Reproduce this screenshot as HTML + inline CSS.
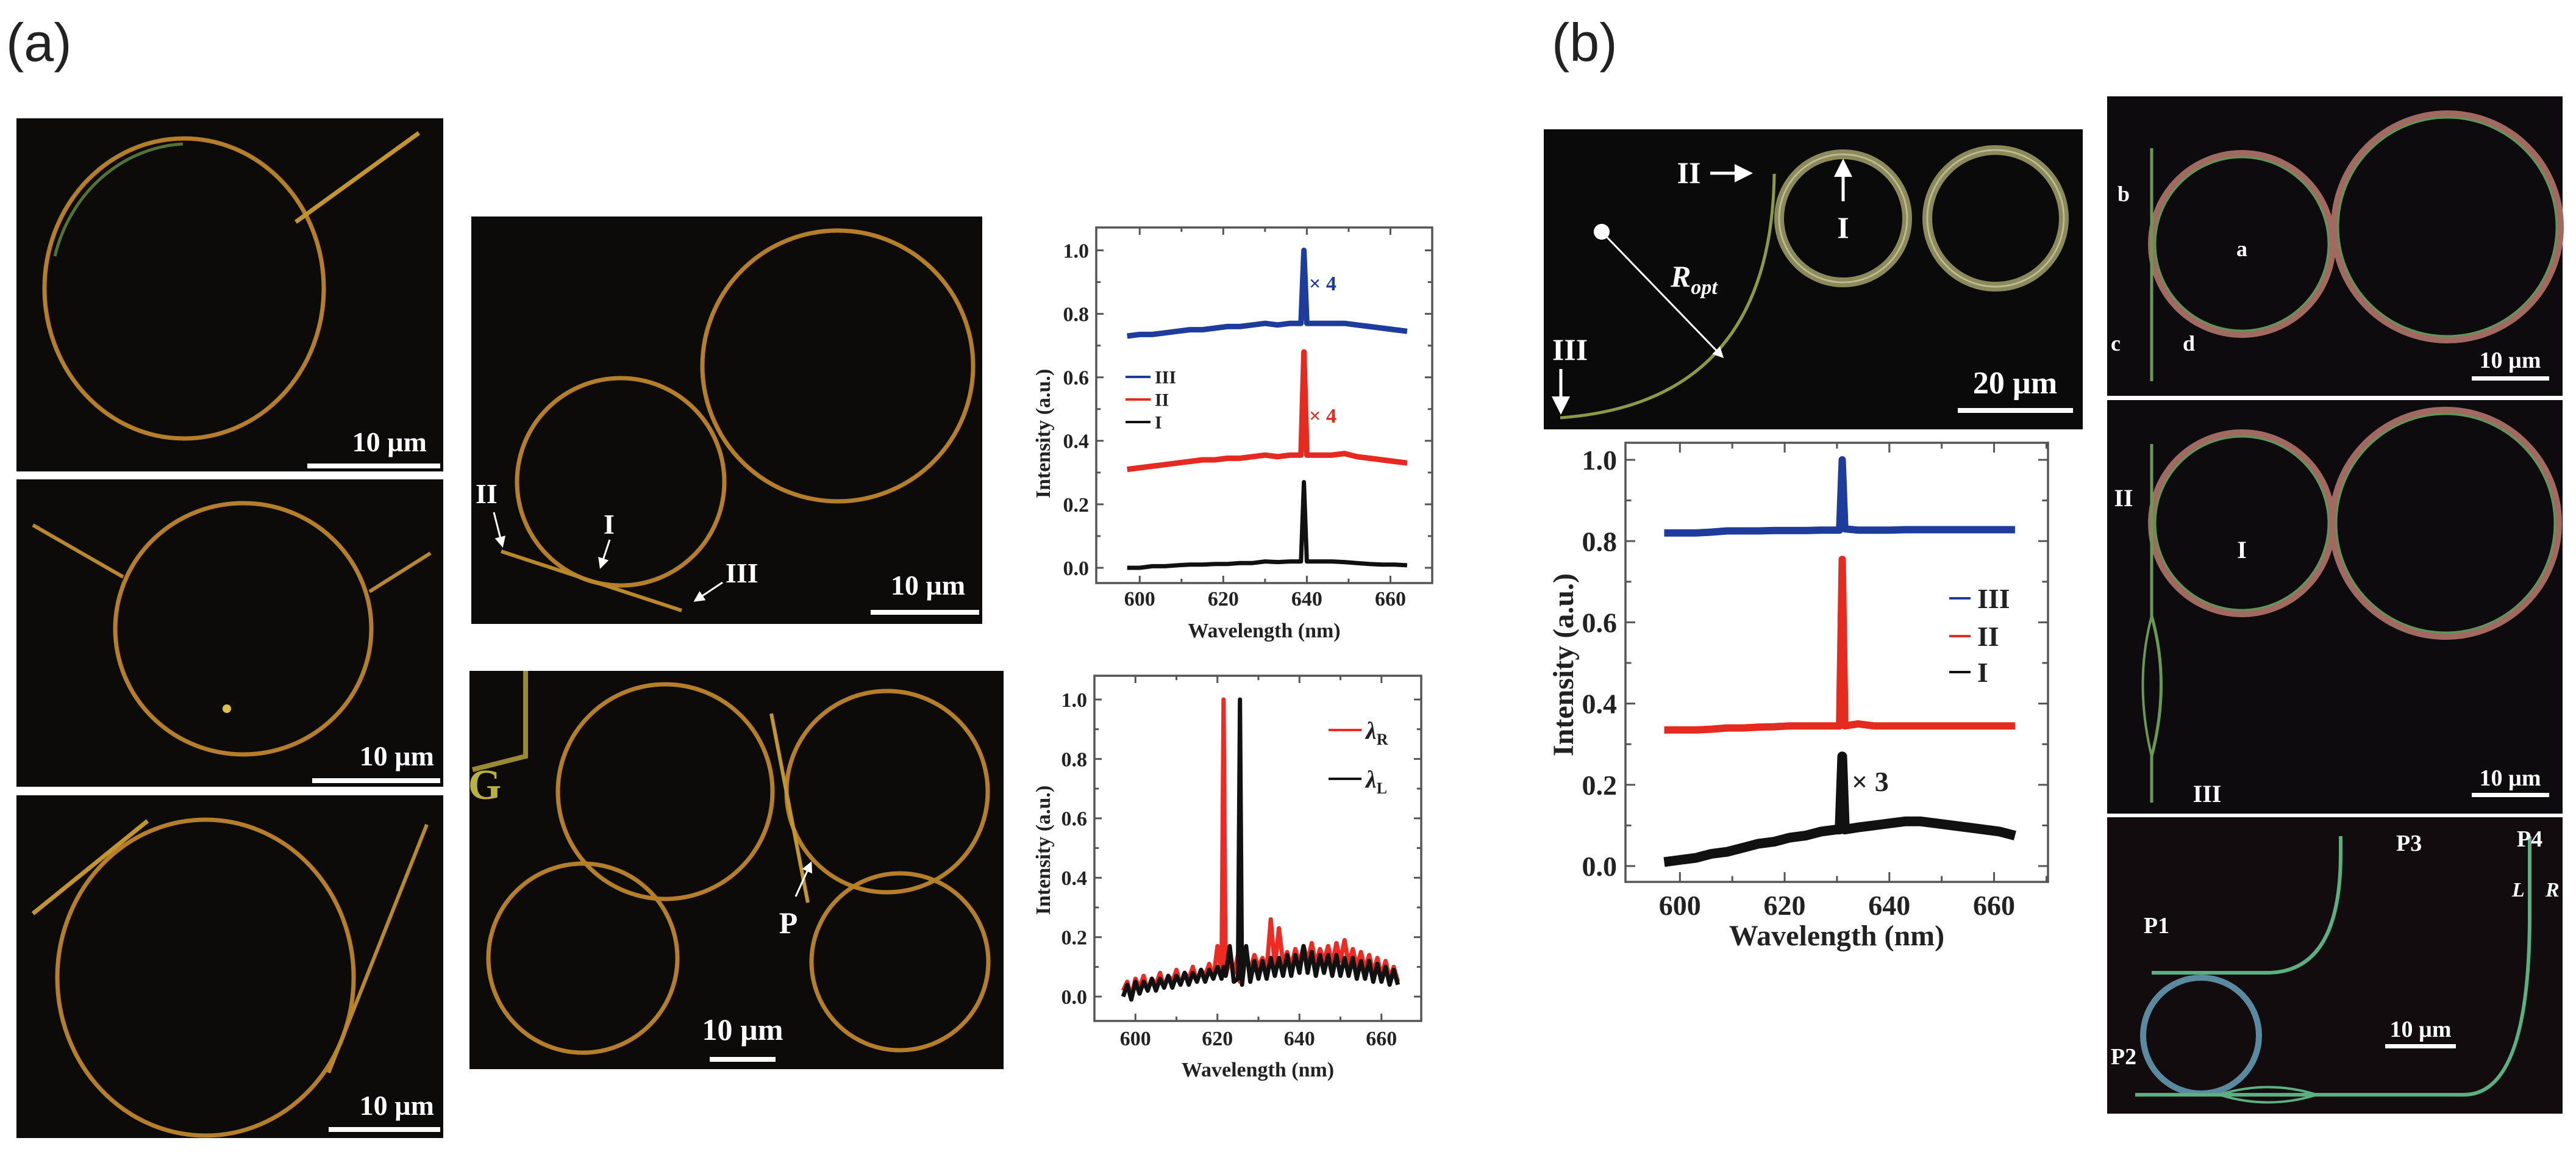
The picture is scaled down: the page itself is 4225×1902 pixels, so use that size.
<!DOCTYPE html>
<html><head><meta charset="utf-8"><style>
html,body{margin:0;padding:0;background:#fff;}
svg{display:block;}
.ser{font-family:"Liberation Serif",serif;font-weight:bold;}
</style></head>
<body>
<svg id="fig" xmlns="http://www.w3.org/2000/svg" width="4225" height="1902" viewBox="0 0 4225 1902">
<defs><marker id="ah" markerWidth="6" markerHeight="6" refX="5" refY="3" orient="auto"><path d="M0,0 L6,3 L0,6 Z" fill="#fff"/></marker></defs>
<rect width="4225" height="1902" fill="#fff"/>
<text x="10" y="100" font-family="Liberation Sans, sans-serif" font-size="88" fill="#222">(a)</text>
<text x="2545" y="100" font-family="Liberation Sans, sans-serif" font-size="88" fill="#222">(b)</text>

<g>
<rect x="27" y="194" width="700" height="579" fill="#0d0b0a"/>
<ellipse cx="302" cy="473" rx="229" ry="246" fill="none" stroke="#b47f28" stroke-width="7"/>
<path d="M300,236 A229,246 0 0 0 90,420" fill="none" stroke="#6fa048" stroke-width="5" opacity="0.7"/>
<line x1="485" y1="364" x2="687" y2="218" stroke="#c2962c" stroke-width="7"/>
<rect x="504" y="760" width="218" height="8" fill="#fff"/>
<text class="ser" x="700" y="740" font-size="46" fill="#fff" text-anchor="end">10 µm</text>
</g>
<g>
<rect x="27" y="786" width="700" height="504" fill="#0d0b0a"/>
<ellipse cx="399" cy="1031" rx="210" ry="206" fill="none" stroke="#b47f28" stroke-width="7"/>
<line x1="54" y1="861" x2="202" y2="946" stroke="#b8882a" stroke-width="6"/>
<line x1="606" y1="970" x2="706" y2="907" stroke="#b8882a" stroke-width="6"/>
<circle cx="372" cy="1162" r="7" fill="#e0c040"/>
<rect x="512" y="1276" width="210" height="8" fill="#fff"/>
<text class="ser" x="712" y="1255" font-size="46" fill="#fff" text-anchor="end">10 µm</text>
</g>
<g>
<rect x="27" y="1304" width="700" height="562" fill="#0d0b0a"/>
<ellipse cx="337" cy="1603" rx="243" ry="259" fill="none" stroke="#b47f28" stroke-width="7"/>
<line x1="54" y1="1498" x2="242" y2="1346" stroke="#c2962c" stroke-width="7"/>
<line x1="700" y1="1352" x2="539" y2="1759" stroke="#b8882a" stroke-width="6"/>
<rect x="539" y="1848" width="183" height="8" fill="#fff"/>
<text class="ser" x="712" y="1828" font-size="46" fill="#fff" text-anchor="end">10 µm</text>
</g>

<g>
<rect x="773" y="355" width="838" height="668" fill="#0d0b0a"/>
<circle cx="1374" cy="600" r="222" fill="none" stroke="#b47f28" stroke-width="7"/>
<circle cx="1018" cy="790" r="170" fill="none" stroke="#b47f28" stroke-width="7"/>
<line x1="822" y1="904" x2="1118" y2="1001" stroke="#b8882a" stroke-width="6"/>
<text class="ser" x="780" y="825" font-size="46" fill="#fff">II</text>
<line x1="810" y1="840" x2="824" y2="895" stroke="#fff" stroke-width="3" marker-end="url(#ah)"/>
<text class="ser" x="990" y="875" font-size="46" fill="#fff">I</text>
<line x1="1000" y1="885" x2="985" y2="930" stroke="#fff" stroke-width="3" marker-end="url(#ah)"/>
<text class="ser" x="1190" y="955" font-size="46" fill="#fff">III</text>
<line x1="1185" y1="955" x2="1140" y2="985" stroke="#fff" stroke-width="3" marker-end="url(#ah)"/>
<rect x="1428" y="1000" width="178" height="8" fill="#fff"/>
<text class="ser" x="1522" y="975" font-size="46" fill="#fff" text-anchor="middle">10 µm</text>
</g>

<g>
<rect x="770" y="1100" width="876" height="653" fill="#0d0b0a"/>
<circle cx="1091" cy="1298" r="176" fill="none" stroke="#b47f28" stroke-width="7"/>
<circle cx="1455" cy="1298" r="165" fill="none" stroke="#b47f28" stroke-width="7"/>
<circle cx="956" cy="1571" r="155" fill="none" stroke="#b47f28" stroke-width="7"/>
<circle cx="1476" cy="1577" r="145" fill="none" stroke="#b47f28" stroke-width="7"/>
<line x1="1265" y1="1170" x2="1325" y2="1480" stroke="#c2962c" stroke-width="6"/>
<path d="M862,1100 L862,1240 L775,1262" fill="none" stroke="#9a8a30" stroke-width="8"/>
<text class="ser" x="795" y="1310" font-size="70" fill="#b8b040" text-anchor="middle">G</text>
<text class="ser" x="1293" y="1530" font-size="50" fill="#fff" text-anchor="middle">P</text>
<line x1="1305" y1="1470" x2="1330" y2="1415" stroke="#fff" stroke-width="3" marker-end="url(#ah)"/>
<rect x="1164" y="1733" width="108" height="8" fill="#fff"/>
<text class="ser" x="1218" y="1705" font-size="50" fill="#fff" text-anchor="middle">10 µm</text>
</g>

<g>
<rect x="2532" y="212" width="884" height="492" fill="#0b0a0a"/>
<circle cx="3023" cy="358" r="105" fill="none" stroke="#8a8a5a" stroke-width="16"/>
<circle cx="3023" cy="358" r="105" fill="none" stroke="#c0b890" stroke-width="3"/>
<circle cx="3273" cy="358" r="112" fill="none" stroke="#8a8a5a" stroke-width="16"/>
<circle cx="3273" cy="358" r="112" fill="none" stroke="#c0b890" stroke-width="3"/>
<path d="M2559,685 Q2905,660 2910,285" fill="none" stroke="#8c9a40" stroke-width="5"/>
<circle cx="2627" cy="380" r="13" fill="#fff"/>
<line x1="2627" y1="380" x2="2825" y2="585" stroke="#fff" stroke-width="3" marker-end="url(#ah)"/>
<text class="ser" x="2740" y="470" font-size="50" font-style="italic" fill="#fff">R<tspan font-size="34" dy="12">opt</tspan></text>
<text class="ser" x="2770" y="300" font-size="50" fill="#fff" text-anchor="middle">II</text>
<line x1="2805" y1="284" x2="2870" y2="284" stroke="#fff" stroke-width="5" marker-end="url(#ah)"/>
<text class="ser" x="3023" y="390" font-size="50" fill="#fff" text-anchor="middle">I</text>
<line x1="3023" y1="330" x2="3023" y2="265" stroke="#fff" stroke-width="5" marker-end="url(#ah)"/>
<text class="ser" x="2575" y="590" font-size="50" fill="#fff" text-anchor="middle">III</text>
<line x1="2560" y1="605" x2="2560" y2="675" stroke="#fff" stroke-width="5" marker-end="url(#ah)"/>
<rect x="3211" y="669" width="189" height="8" fill="#fff"/>
<text class="ser" x="3305" y="645" font-size="52" fill="#fff" text-anchor="middle">20 µm</text>
</g>

<g>
<rect x="3456" y="158" width="747" height="491" fill="#0d0b0d"/>
<circle cx="3677" cy="400" r="148" fill="none" stroke="#a06a60" stroke-width="12"/>
<circle cx="3677" cy="400" r="142" fill="none" stroke="#5a9a58" stroke-width="3"/>
<circle cx="4014" cy="372" r="185" fill="none" stroke="#a06a60" stroke-width="12"/>
<circle cx="4014" cy="372" r="179" fill="none" stroke="#5a9a58" stroke-width="3"/>
<line x1="3529" y1="243" x2="3529" y2="625" stroke="#6a9a50" stroke-width="5"/>
<text class="ser" x="3483" y="330" font-size="36" fill="#fff" text-anchor="middle">b</text>
<text class="ser" x="3677" y="420" font-size="36" fill="#fff" text-anchor="middle">a</text>
<text class="ser" x="3470" y="575" font-size="36" fill="#fff" text-anchor="middle">c</text>
<text class="ser" x="3590" y="575" font-size="36" fill="#fff" text-anchor="middle">d</text>
<rect x="4054" y="617" width="127" height="7" fill="#fff"/>
<text class="ser" x="4117" y="603" font-size="38" fill="#fff" text-anchor="middle">10 µm</text>
</g>
<g>
<rect x="3456" y="656" width="747" height="678" fill="#0d0b0d"/>
<circle cx="3677" cy="858" r="148" fill="none" stroke="#a06a60" stroke-width="12"/>
<circle cx="3677" cy="858" r="142" fill="none" stroke="#5a9a58" stroke-width="3"/>
<circle cx="4011" cy="858" r="185" fill="none" stroke="#a06a60" stroke-width="12"/>
<circle cx="4011" cy="858" r="179" fill="none" stroke="#5a9a58" stroke-width="3"/>
<path d="M3529,728 L3529,1010 Q3560,1120 3529,1240 L3529,1316" fill="none" stroke="#6a9a50" stroke-width="5"/>
<path d="M3529,1010 Q3500,1120 3529,1240" fill="none" stroke="#6a9a50" stroke-width="4"/>
<text class="ser" x="3483" y="830" font-size="40" fill="#fff" text-anchor="middle">II</text>
<text class="ser" x="3677" y="915" font-size="40" fill="#fff" text-anchor="middle">I</text>
<text class="ser" x="3620" y="1315" font-size="40" fill="#fff" text-anchor="middle">III</text>
<rect x="4054" y="1300" width="127" height="7" fill="#fff"/>
<text class="ser" x="4117" y="1288" font-size="38" fill="#fff" text-anchor="middle">10 µm</text>
</g>
<g>
<rect x="3456" y="1340" width="747" height="486" fill="#120c0e"/>
<circle cx="3610" cy="1698" r="95" fill="none" stroke="#5a8aa0" stroke-width="10"/>
<path d="M3529,1595 L3718,1595 Q3839,1595 3839,1400 L3839,1371" fill="none" stroke="#5ab080" stroke-width="6"/>
<path d="M3502,1795 L4041,1795 Q4149,1795 4149,1500 L4149,1371" fill="none" stroke="#5ab080" stroke-width="6"/>
<path d="M3640,1795 Q3720,1770 3800,1795 Q3720,1820 3640,1795" fill="none" stroke="#5ab080" stroke-width="4"/>
<text class="ser" x="3930" y="1395" font-size="38" fill="#fff">P3</text>
<text class="ser" x="4149" y="1388" font-size="38" fill="#fff" text-anchor="middle">P4</text>
<text class="ser" x="3537" y="1530" font-size="38" fill="#fff" text-anchor="middle">P1</text>
<text class="ser" x="3483" y="1745" font-size="38" fill="#fff" text-anchor="middle">P2</text>
<text class="ser" x="4120" y="1470" font-size="34" font-style="italic" fill="#fff">L</text>
<text class="ser" x="4175" y="1470" font-size="34" font-style="italic" fill="#fff">R</text>
<rect x="3912" y="1712" width="116" height="7" fill="#fff"/>
<text class="ser" x="3970" y="1700" font-size="38" fill="#fff" text-anchor="middle">10 µm</text>
</g>
<g id="charts"></g>
</svg>
<script>
const wl1 = [597,600,603,606,609,612,615,618,621,624,627,630,633,636,638.6,639.3,640,643,646,649,652,655,658,661,664];
const c1I = [0.00,0.00,0.005,0.005,0.008,0.01,0.01,0.012,0.012,0.015,0.015,0.02,0.018,0.02,0.02,0.27,0.02,0.02,0.02,0.018,0.015,0.012,0.01,0.01,0.008];
const c1II = [0.31,0.315,0.32,0.325,0.33,0.335,0.34,0.34,0.345,0.345,0.35,0.355,0.35,0.355,0.355,0.68,0.355,0.355,0.355,0.36,0.35,0.345,0.34,0.335,0.33];
const c1III = [0.73,0.735,0.735,0.74,0.745,0.75,0.75,0.755,0.76,0.76,0.765,0.77,0.765,0.77,0.77,1.0,0.77,0.77,0.77,0.77,0.765,0.76,0.755,0.75,0.745];
const wl2 = [597,598,599,600,601,602,603,604,605,606,607,608,609,610,611,612,613,614,615,616,617,618,619,620,621,621.5,622,623,624,625,625.5,626,627,628,629,630,631,632,633,634,635,636,637,638,639,640,641,642,643,644,645,646,647,648,649,650,651,652,653,654,655,656,657,658,659,660,661,662,663,664];
const c2R = [0.02,0.05,0.00,0.06,0.03,0.07,0.02,0.06,0.04,0.08,0.03,0.07,0.05,0.09,0.04,0.08,0.06,0.10,0.05,0.09,0.07,0.11,0.06,0.17,0.08,1.0,0.07,0.12,0.08,0.14,0.05,0.10,0.13,0.09,0.14,0.10,0.13,0.09,0.26,0.10,0.23,0.11,0.15,0.10,0.16,0.11,0.17,0.12,0.18,0.11,0.16,0.12,0.17,0.11,0.18,0.12,0.19,0.11,0.16,0.10,0.15,0.09,0.14,0.08,0.13,0.07,0.12,0.06,0.10,0.05];
const c2L = [0.00,0.04,-0.01,0.05,0.01,0.05,0.02,0.06,0.02,0.06,0.03,0.07,0.03,0.07,0.04,0.08,0.04,0.08,0.05,0.09,0.05,0.09,0.06,0.10,0.06,0.10,0.07,0.17,0.05,0.06,1.0,0.04,0.17,0.05,0.12,0.06,0.12,0.06,0.13,0.07,0.13,0.07,0.14,0.07,0.14,0.08,0.17,0.08,0.15,0.07,0.14,0.08,0.14,0.07,0.14,0.07,0.13,0.07,0.13,0.06,0.12,0.06,0.12,0.05,0.11,0.05,0.10,0.04,0.09,0.04];
const wl3 = [597,600,603,606,609,612,615,618,621,624,627,630,630.5,631,631.5,634,637,640,643,646,649,652,655,658,661,664];
const c3I = [0.01,0.015,0.02,0.03,0.035,0.045,0.055,0.06,0.07,0.075,0.085,0.09,0.09,0.27,0.09,0.095,0.10,0.105,0.11,0.11,0.105,0.10,0.095,0.09,0.085,0.075];
const c3II = [0.335,0.335,0.335,0.337,0.34,0.34,0.342,0.343,0.345,0.345,0.345,0.345,0.345,0.755,0.345,0.35,0.345,0.345,0.345,0.345,0.345,0.345,0.345,0.345,0.345,0.345];
const c3III = [0.82,0.82,0.82,0.822,0.825,0.825,0.825,0.826,0.826,0.826,0.827,0.827,0.827,1.0,0.83,0.827,0.827,0.827,0.828,0.828,0.828,0.828,0.828,0.828,0.828,0.828];
const xTickVals = [600,620,640,660];
const xMinorVals = [610,630,650,670];
const yTickVals = [0.0,0.2,0.4,0.6,0.8,1.0];
const yTickLabels = ["0.0","0.2","0.4","0.6","0.8","1.0"];
const xTickLabels = ["600","620","640","660"];

const NS = "http://www.w3.org/2000/svg";
const root = document.getElementById('charts');
function el(tag, attrs, parent){ const e=document.createElementNS(NS,tag); for(const k in attrs) e.setAttribute(k,attrs[k]); parent.appendChild(e); return e; }

function chart(cfg){
  const g = el('g',{},root);
  
  
  const sx = v => cfg.L + (v - cfg.x0)/(cfg.x1 - cfg.x0)*(cfg.R - cfg.L);
  const sy = v => cfg.B - (v - cfg.y0)/(cfg.y1 - cfg.y0)*(cfg.B - cfg.T);
  const fs = cfg.fs;
  const tl = cfg.tick;
  xTickVals.forEach((v,i)=>{
    const x=sx(v);
    const t1=el('line',{x1:x,y1:cfg.B,x2:x,y2:cfg.B-tl,stroke:'#555','stroke-width':3},g);
    
    
    el('line',{x1:x,y1:cfg.T,x2:x,y2:cfg.T+tl,stroke:'#555','stroke-width':3},g);
    const lab=el('text',{x:x,y:cfg.xLabY,'font-size':fs,'text-anchor':'middle',fill:'#222',class:'ser'},g);
    lab.textContent=xTickLabels[i];
    
    
  });
  xMinorVals.forEach(v=>{ const x=sx(v); if(x<cfg.R){
    el('line',{x1:x,y1:cfg.B,x2:x,y2:cfg.B-tl*0.6,stroke:'#555','stroke-width':3},g);
    el('line',{x1:x,y1:cfg.T,x2:x,y2:cfg.T+tl*0.6,stroke:'#555','stroke-width':3},g);}});
  yTickVals.forEach((v,i)=>{
    const y=sy(v);
    const t=el('line',{x1:cfg.L,y1:y,x2:cfg.L+tl,y2:y,stroke:'#555','stroke-width':3},g);
    
    
    el('line',{x1:cfg.R,y1:y,x2:cfg.R-tl,y2:y,stroke:'#555','stroke-width':3},g);
    const ym=sy(v+0.1);
    if(ym>cfg.T){ el('line',{x1:cfg.L,y1:ym,x2:cfg.L+tl*0.6,y2:ym,stroke:'#555','stroke-width':3},g);
      el('line',{x1:cfg.R,y1:ym,x2:cfg.R-tl*0.6,y2:ym,stroke:'#555','stroke-width':3},g);}
    const lab=el('text',{x:cfg.L-cfg.yLabGap,y:y+fs*0.35,'font-size':fs,'text-anchor':'end',fill:'#222',class:'ser'},g);
    lab.textContent=yTickLabels[i];
    
    
  });
  const box=el('rect',{x:cfg.L,y:cfg.T,width:cfg.R-cfg.L,height:cfg.B-cfg.T,fill:'none',stroke:'#555','stroke-width':3.5},g);
  
  
  cfg.series.forEach(s=>{
    const d = s.vals.map((v,i)=>(i?'L':'M')+sx(cfg.wl[i]).toFixed(1)+','+sy(v).toFixed(1)).join(' ');
    const p=el('path',{d:d,fill:'none',stroke:s.color,'stroke-width':s.w,'stroke-linejoin':'round'},g);
    
    
  });
  const xt=el('text',{x:(cfg.L+cfg.R)/2,y:cfg.xTitleY,'font-size':cfg.tfs,'text-anchor':'middle',fill:'#222',class:'ser'},g);
  xt.textContent='Wavelength (nm)';
  
  
  const yt=el('text',{x:0,y:0,'font-size':cfg.tfs,'text-anchor':'middle',fill:'#222',class:'ser',transform:`translate(${cfg.yTitleX},${cfg.yTitleY}) rotate(-90)`},g);
  yt.textContent='Intensity (a.u.)';
  
  
  cfg.legend.forEach(l=>{
    const lg=el('g',{},g);
    
    
    el('line',{x1:l.x1,y1:l.y,x2:l.x2,y2:l.y,stroke:l.color,'stroke-width':4},lg);
    const t=el('text',{x:l.tx,y:l.y+l.fs*0.35,'font-size':l.fs,fill:'#222',class:'ser'},lg);
    t.innerHTML=l.label;
  });
  (cfg.notes||[]).forEach(n=>{
    const t=el('text',{x:n.x,y:n.y,'font-size':n.fs,fill:n.color,class:'ser'},g);
    t.textContent=n.text;
    
    
  });
}

chart({name:'spectra-chart-a-top',L:1798,R:2349,T:373,B:956,x0:589.6,x1:670,y0:-0.048,y1:1.072,
  fs:34,tfs:34,tick:12,yLabGap:12,xLabY:993,xTitleY:1045,yTitleX:1722,yTitleY:711,wl:wl1,
  series:[{key:'III',vals:c1III,color:'#1e3c9c',w:9},{key:'II',vals:c1II,color:'#e52a1f',w:9},{key:'I',vals:c1I,color:'#111',w:7}],
  legend:[{key:'III',x1:1846,x2:1887,y:618,tx:1894,fs:30,color:'#1e3c9c',label:'III'},
          {key:'II',x1:1846,x2:1887,y:655,tx:1894,fs:30,color:'#e52a1f',label:'II'},
          {key:'I',x1:1846,x2:1887,y:692,tx:1894,fs:30,color:'#111',label:'I'}],
  notes:[{x:2147,y:476,fs:34,color:'#1e3c9c',text:'× 4'},{x:2147,y:693,fs:34,color:'#e52a1f',text:'× 4'}]});

chart({name:'spectra-chart-a-bottom',L:1795,R:2331,T:1108,B:1674,x0:590,x1:669.7,y0:-0.082,y1:1.08,
  fs:34,tfs:34,tick:12,yLabGap:12,xLabY:1714,xTitleY:1765,yTitleX:1722,yTitleY:1394,wl:wl2,
  series:[{key:'lambda-R',vals:c2R,color:'#ee2a22',w:7},{key:'lambda-L',vals:c2L,color:'#111',w:7}],
  legend:[{key:'lambda-R',x1:2179,x2:2233,y:1197,tx:2240,fs:40,color:'#ee2a22',label:'<tspan font-style="italic">λ</tspan><tspan font-size="26" dy="10">R</tspan>'},
          {key:'lambda-L',x1:2179,x2:2233,y:1277,tx:2240,fs:40,color:'#111',label:'<tspan font-style="italic">λ</tspan><tspan font-size="26" dy="10">L</tspan>'}]});

chart({name:'spectra-chart-b',L:2666,R:3359,T:726,B:1446,x0:589.6,x1:670.3,y0:-0.039,y1:1.042,
  fs:46,tfs:48,tick:16,yLabGap:14,xLabY:1500,xTitleY:1550,yTitleX:2580,yTitleY:1090,wl:wl3,
  series:[{key:'III',vals:c3III,color:'#1e3c9c',w:12},{key:'II',vals:c3II,color:'#e52a1f',w:12},{key:'I',vals:c3I,color:'#111',w:16}],
  legend:[{key:'III',x1:3197,x2:3232,y:981,tx:3243,fs:46,color:'#1e3c9c',label:'III'},
          {key:'II',x1:3197,x2:3232,y:1043,tx:3243,fs:46,color:'#e52a1f',label:'II'},
          {key:'I',x1:3197,x2:3232,y:1102,tx:3243,fs:46,color:'#111',label:'I'}],
  notes:[{x:3037,y:1297,fs:46,color:'#222',text:'× 3'}]});
</script>
</body></html>
